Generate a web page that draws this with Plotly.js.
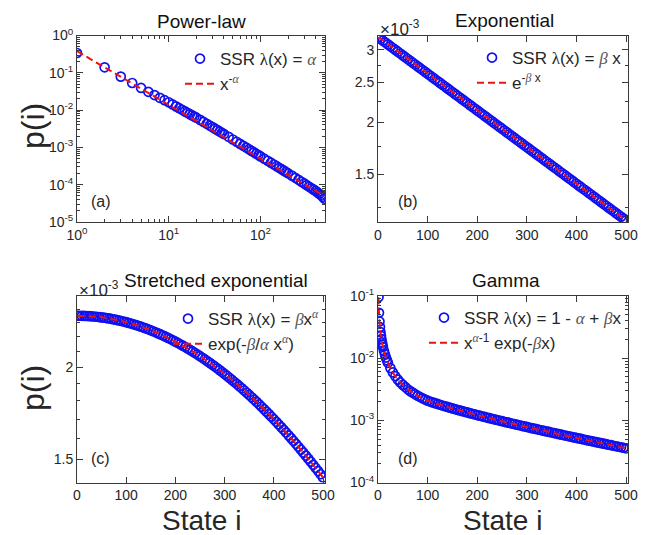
<!DOCTYPE html>
<html>
<head>
<meta charset="utf-8">
<script src="https://cdn.plot.ly/plotly-3.0.1.min.js"></script>
<style>html,body{margin:0;padding:0;background:#fff}#chart{width:662px;height:535px}</style>
</head>
<body>
<div id="chart"></div>
<script>
// ---------- (a) Power-law ----------
const stateA = [1,2,3,4,5,6,7,8,9,10,11,12,13,14,15,16,17,18,19,20,22,24,26,28,30,32,34,36,38,40,45,50,55,60,65,70,75,80,85,90,95,100,110,120,130,140,150,160,170,180,190,200,220,240,260,280,300,320,340,360,380,400,420,440,460,480,500];
const probA = [0.339,0.1403,0.0791,0.0532,0.0392,0.0309,0.0253,0.02135,0.01845,0.01622,0.01420,0.01259,0.01127,0.01018,0.00926,0.00848,0.00780,0.00722,0.00671,0.00626,0.00546,0.00482,0.00429,0.00385,0.00349,0.00318,0.00290,0.00267,0.00246,0.00228,0.00192,0.00163,0.001418,0.001245,0.001105,0.000989,0.000891,0.000808,0.000737,0.000676,0.000622,0.000575,0.000499,0.000439,0.000389,0.000348,0.000314,0.000284,0.000260,0.000238,0.000219,0.000203,0.000175,0.000153,0.000135,0.000120,0.000108,9.72e-5,8.80e-5,8.01e-5,7.38e-5,6.81e-5,6.20e-5,5.67e-5,5.20e-5,4.72e-5,4.20e-5];
const fitXA = [1,500];
const fitYA = [0.380,4.93e-5];

// ---------- shared state index for (b) and (c) ----------
const stateBC = [1,5,10,15,20,25,30,35,40,45,50,55,60,65,70,75,80,85,90,95,100,105,110,115,120,125,130,135,140,145,150,155,160,165,170,175,180,185,190,195,200,205,210,215,220,225,230,235,240,245,250,255,260,265,270,275,280,285,290,295,300,305,310,315,320,325,330,335,340,345,350,355,360,365,370,375,380,385,390,395,400,405,410,415,420,425,430,435,440,445,450,455,460,465,470,475,480,485,490,495,500];

// ---------- (b) Exponential ----------
const probB = [3.2200e-3,3.1873e-3,3.1549e-3,3.1229e-3,3.0911e-3,3.0597e-3,3.0286e-3,2.9979e-3,2.9674e-3,2.9373e-3,
2.9075e-3,2.8780e-3,2.8487e-3,2.8198e-3,2.7911e-3,2.7628e-3,2.7347e-3,2.7069e-3,2.6794e-3,2.6522e-3,
2.6253e-3,2.5986e-3,2.5722e-3,2.5461e-3,2.5202e-3,2.4946e-3,2.4693e-3,2.4442e-3,2.4194e-3,2.3948e-3,
2.3705e-3,2.3464e-3,2.3226e-3,2.2990e-3,2.2756e-3,2.2525e-3,2.2296e-3,2.2070e-3,2.1846e-3,2.1624e-3,
2.1404e-3,2.1187e-3,2.0972e-3,2.0759e-3,2.0548e-3,2.0339e-3,2.0132e-3,1.9928e-3,1.9725e-3,1.9525e-3,
1.9327e-3,1.9131e-3,1.8936e-3,1.8744e-3,1.8554e-3,1.8365e-3,1.8179e-3,1.7994e-3,1.7811e-3,1.7630e-3,
1.7451e-3,1.7274e-3,1.7098e-3,1.6925e-3,1.6753e-3,1.6583e-3,1.6414e-3,1.6247e-3,1.6082e-3,1.5919e-3,
1.5757e-3,1.5597e-3,1.5439e-3,1.5282e-3,1.5127e-3,1.4973e-3,1.4821e-3,1.4670e-3,1.4521e-3,1.4374e-3,
1.4228e-3,1.4083e-3,1.3940e-3,1.3799e-3,1.3659e-3,1.3520e-3,1.3383e-3,1.3247e-3,1.3112e-3,1.2979e-3,
1.2847e-3,1.2716e-3,1.2587e-3,1.2459e-3,1.2333e-3,1.2207e-3,1.2083e-3,1.1960e-3,1.1839e-3,1.1719e-3,
1.1600e-3];
const fitXB = [1,500];
const fitYB = [3.22e-3,1.16e-3];

// ---------- (c) Stretched exponential ----------
const probC = [2.350e-3,2.350e-3,2.3495e-3,2.3489e-3,2.3481e-3,2.3470e-3,2.3457e-3,2.3442e-3,2.3424e-3,2.3404e-3,
2.3381e-3,2.3356e-3,2.3329e-3,2.3300e-3,2.3268e-3,2.3234e-3,2.3197e-3,2.3158e-3,2.3117e-3,2.3074e-3,
2.3029e-3,2.2981e-3,2.2931e-3,2.2879e-3,2.2824e-3,2.2768e-3,2.2709e-3,2.2648e-3,2.2585e-3,2.2520e-3,
2.2453e-3,2.2384e-3,2.2312e-3,2.2239e-3,2.2164e-3,2.2086e-3,2.2007e-3,2.1926e-3,2.1843e-3,2.1758e-3,
2.1671e-3,2.1582e-3,2.1492e-3,2.1399e-3,2.1305e-3,2.1209e-3,2.1112e-3,2.1013e-3,2.0912e-3,2.0810e-3,
2.0706e-3,2.0600e-3,2.0493e-3,2.0384e-3,2.0274e-3,2.0162e-3,2.0049e-3,1.9935e-3,1.9819e-3,1.9702e-3,
1.9584e-3,1.9464e-3,1.9343e-3,1.9221e-3,1.9098e-3,1.8974e-3,1.8848e-3,1.8722e-3,1.8595e-3,1.8466e-3,
1.8337e-3,1.8206e-3,1.8075e-3,1.7943e-3,1.7810e-3,1.7676e-3,1.7541e-3,1.7406e-3,1.7270e-3,1.7133e-3,
1.6996e-3,1.6858e-3,1.6719e-3,1.6580e-3,1.6440e-3,1.6300e-3,1.6159e-3,1.6018e-3,1.5877e-3,1.5735e-3,
1.5593e-3,1.5451e-3,1.5308e-3,1.5165e-3,1.5022e-3,1.4879e-3,1.4736e-3,1.4592e-3,1.4449e-3,1.4305e-3,
1.4162e-3];
const fitXC = [1,50,100,150,200,250,300,350,400,450,500];
const fitYC = [2.350e-3,2.3381e-3,2.3029e-3,2.2453e-3,2.1671e-3,2.0706e-3,1.9584e-3,1.8337e-3,1.6996e-3,1.5593e-3,1.4162e-3];

// ---------- (d) Gamma ----------
const stateD = [1,2,3,4,5,6,7,8,9,10,12,14,16,18,20,25,30,35,40,45,50,55,60,65,70,75,80,85,90,95,100,105,110,115,120,125,130,135,140,145,150,155,160,165,170,175,180,185,190,195,200,205,210,215,220,225,230,235,240,245,250,255,260,265,270,275,280,285,290,295,300,305,310,315,320,325,330,335,340,345,350,355,360,365,370,375,380,385,390,395,400,405,410,415,420,425,430,435,440,445,450,455,460,465,470,475,480,485,490,495,500];
const probD = [0.0955,0.0537,0.0389,0.0316,0.0263,0.0229,0.0202,0.0180,0.0164,0.0151,0.0130,0.01148,0.01023,0.00923,0.00841,
0.00692,0.00589,0.00513,0.00452,0.00407,0.00372,0.00343,0.00316,0.00295,0.00279,0.00263,0.00248,0.00237,0.00226,0.00216,0.00207,
0.002003,0.001943,0.001887,0.001834,0.001782,0.001733,0.001686,0.001641,0.001598,0.001556,0.001517,0.001478,0.001441,0.001406,0.001371,0.001339,0.001306,0.001275,0.001245,0.001216,
0.001188,0.001161,0.001134,0.001109,0.001084,0.001060,0.001036,0.001013,0.000991,0.000969,0.000948,0.000928,0.000908,0.000888,0.000870,0.000851,0.000833,0.000816,0.000799,0.000782,
0.000766,0.000750,0.000735,0.000720,0.000705,0.000691,0.000677,0.000663,0.000650,0.000637,0.000624,0.000612,0.000599,0.000587,0.000576,0.000565,0.000553,0.000543,0.000532,0.000522,
0.000511,0.000502,0.000492,0.000482,0.000473,0.000464,0.000455,0.000446,0.000438,0.000430,0.000421,0.000413,0.000405,0.000398,0.000390,0.000383,0.000376,0.000369,0.000362,0.000355];
const fitXD = [1,2,3,4,5,6,8,10,14,20,30,40,50,60,70,80,100,130,160,200,250,300,350,400,450,500];
const fitYD = [0.0955,0.0537,0.0389,0.0316,0.0263,0.0229,0.0180,0.0151,0.01148,0.00841,0.00589,0.00452,0.00372,0.00316,0.00279,0.00248,0.00207,0.001733,0.001478,0.001216,0.000969,0.000782,0.000637,0.000522,0.000430,0.000355];

// ---------- tick labels ----------
const logTickA_x = [1,10,100];
const logTickA_xText = ['10<sup>0</sup>','10<sup>1</sup>','10<sup>2</sup>'];
const logTickA_y = [1e-5,1e-4,1e-3,1e-2,1e-1,1];
const logTickA_yText = ['10<sup>-5</sup>','10<sup>-4</sup>','10<sup>-3</sup>','10<sup>-2</sup>','10<sup>-1</sup>','10<sup>0</sup>'];
const tickB_y = [1.5e-3,2e-3,2.5e-3,3e-3];
const tickB_yText = ['1.5','2','2.5','3'];
const tickC_y = [1.5e-3,2e-3,2.5e-3];
const tickC_yText = ['1.5','2','2.5'];
const logTickD_y = [1e-4,1e-3,1e-2,1e-1];
const logTickD_yText = ['10<sup>-4</sup>','10<sup>-3</sup>','10<sup>-2</sup>','10<sup>-1</sup>'];
const linTicks = [0,100,200,300,400,500];

// ---------- styling ----------
const FONT = 'Liberation Sans, Arial, Helvetica, sans-serif';
const TXT = '#262626';
const BLUE = '#1010f0';
const RED = '#ee1111';
const W = 662, H = 535;
const px = v => v / W;
const py = v => 1 - v / H;

function minorLog(lo, hi) {
  const out = [];
  for (let e = lo; e < hi; e++) for (let m = 2; m <= 9; m++) out.push(m * Math.pow(10, e));
  return out;
}

function axis(extra) {
  return Object.assign({
    showline: true, linecolor: '#3a3a3a', linewidth: 1, mirror: 'allticks',
    ticks: 'inside', ticklen: 6, tickwidth: 1, tickcolor: '#3a3a3a',
    tickfont: {family: FONT, size: 14, color: TXT},
    showgrid: false, zeroline: false, automargin: false
  }, extra);
}
const minorStyle = {ticks: 'inside', ticklen: 3, tickcolor: '#3a3a3a', showgrid: false};

const sq = s => '<span style="font-family:Liberation Serif">' + s + '</span>';
const gr = s => '<span style="font-family:Liberation Serif;font-style:italic;fill:#555">' + s + '</span>';

function scatter(x, y, xa, ya, name, leg) {
  return {x: x, y: y, xaxis: xa, yaxis: ya, type: 'scatter', mode: 'markers', name: name, legend: leg,
    marker: {symbol: 'circle-open', size: 9, color: BLUE, line: {width: 1.7, color: BLUE}}};
}
function fit(x, y, xa, ya, name, leg, shape) {
  return {x: x, y: y, xaxis: xa, yaxis: ya, type: 'scatter', mode: 'lines', name: name, legend: leg,
    line: {color: RED, width: 2, dash: '7px,4px', shape: shape || 'linear'}};
}

const traces = [
  scatter(stateA, probA, 'x', 'y', 'SSR ' + sq('λ') + '(x) = ' + gr('α'), 'legend'),
  fit(fitXA, fitYA, 'x', 'y', 'x<sup>-' + gr('α') + '</sup>', 'legend'),
  scatter(stateBC, probB, 'x2', 'y2', 'SSR ' + sq('λ') + '(x) = ' + gr('β') + ' x', 'legend2'),
  fit(fitXB, fitYB, 'x2', 'y2', 'e<sup>-' + gr('β') + ' x</sup>', 'legend2'),
  scatter(stateBC, probC, 'x3', 'y3', 'SSR ' + sq('λ') + '(x) = ' + gr('β') + 'x<sup>' + gr('α') + '</sup>', 'legend3'),
  fit(fitXC, fitYC, 'x3', 'y3', 'exp(-' + gr('β') + '/' + gr('α') + ' x<sup>' + gr('α') + '</sup>)', 'legend3', 'spline'),
  scatter(stateD, probD, 'x4', 'y4', 'SSR ' + sq('λ') + '(x) = 1 - ' + gr('α') + ' + ' + gr('β') + 'x', 'legend4'),
  fit(fitXD, fitYD, 'x4', 'y4', 'x<sup>' + gr('α') + '-1</sup> exp(-' + gr('β') + 'x)', 'legend4', 'spline')
];

const colL = [px(77), px(325)], colR = [px(378), px(628)];
const rowT = [py(222), py(35.5)], rowB = [py(482.5), py(296)];

function legendAt(left, top) {
  return {x: px(left), y: py(top), xanchor: 'left', yanchor: 'top', bgcolor: 'rgba(0,0,0,0)',
    borderwidth: 0, font: {family: FONT, size: 17, color: TXT}, tracegroupgap: 0, itemclick: false};
}

const ann = (x, y, text, size, opts) => Object.assign({xref: 'paper', yref: 'paper', x: x, y: y, text: text,
  showarrow: false, font: {family: FONT, size: size, color: TXT}, xanchor: 'center', yanchor: 'middle'}, opts || {});
const titleFont = {family: FONT, size: 19, color: '#111'};

const layout = {
  width: W, height: H, margin: {l: 0, r: 0, t: 0, b: 0},
  paper_bgcolor: '#fff', plot_bgcolor: '#fff', showlegend: true,
  xaxis: axis({domain: colL, anchor: 'y', type: 'log', range: [0, 2.704], tickvals: logTickA_x, ticktext: logTickA_xText,
    minor: Object.assign({tickvals: minorLog(0, 3).filter(v => v < 510)}, minorStyle)}),
  yaxis: axis({domain: rowT, anchor: 'x', type: 'log', range: [-5, 0], tickvals: logTickA_y, ticktext: logTickA_yText,
    minor: Object.assign({tickvals: minorLog(-5, 0)}, minorStyle)}),
  xaxis2: axis({domain: colR, anchor: 'y2', range: [0, 504], tickvals: linTicks}),
  yaxis2: axis({domain: rowT, anchor: 'x2', type: 'log', range: [-2.9393, -2.4885], tickvals: tickB_y, ticktext: tickB_yText,
    minor: Object.assign({tickvals: [1.25e-3, 1.75e-3, 2.25e-3, 2.75e-3]}, minorStyle)}),
  xaxis3: axis({domain: colL, anchor: 'y3', range: [0, 504], tickvals: linTicks}),
  yaxis3: axis({domain: rowB, anchor: 'x3', type: 'log', range: [-2.8557, -2.6021], tickvals: tickC_y, ticktext: tickC_yText,
    minor: Object.assign({tickvals: [1.6e-3, 1.7e-3, 1.8e-3, 1.9e-3, 2.1e-3, 2.2e-3, 2.3e-3, 2.4e-3]}, minorStyle)}),
  xaxis4: axis({domain: colR, anchor: 'y4', range: [0, 504], tickvals: linTicks}),
  yaxis4: axis({domain: rowB, anchor: 'x4', type: 'log', range: [-4, -1], tickvals: logTickD_y, ticktext: logTickD_yText,
    minor: Object.assign({tickvals: minorLog(-4, -1)}, minorStyle)}),
  legend: legendAt(180, 41),
  legend2: legendAt(472, 40),
  legend3: legendAt(168, 301),
  legend4: legendAt(424, 300),
  annotations: [
    ann(px(201), py(21), 'Power-law', 19, {font: titleFont}),
    ann(px(504), py(20), 'Exponential', 19, {font: titleFont}),
    ann(px(216), py(280), 'Stretched exponential', 19, {font: titleFont}),
    ann(px(506), py(280), 'Gamma', 19, {font: titleFont}),
    ann(px(378), py(28), '×10<sup>-3</sup>', 17, {xanchor: 'left'}),
    ann(px(77), py(289), '×10<sup>-3</sup>', 17, {xanchor: 'left'}),
    ann(px(89), py(201), '(a)', 16, {xanchor: 'left'}),
    ann(px(396), py(201), '(b)', 16, {xanchor: 'left'}),
    ann(px(89), py(458), '(c)', 16, {xanchor: 'left'}),
    ann(px(396), py(458), '(d)', 16, {xanchor: 'left'}),
    ann(px(33), py(126), 'p(i)', 32, {textangle: -90}),
    ann(px(33), py(388), 'p(i)', 32, {textangle: -90}),
    ann(px(201), py(520), 'State i', 28),
    ann(px(503), py(520), 'State i', 28)
  ]
};

Plotly.newPlot('chart', traces, layout, {staticPlot: true, displayModeBar: false});
</script>
</body>
</html>
